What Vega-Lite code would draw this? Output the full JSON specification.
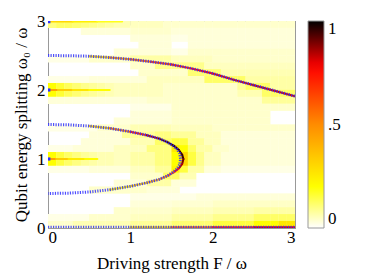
{
"$schema":"https://vega.github.io/schema/vega-lite/v6.json",
"width":247,"height":207,"autosize":"none",
"padding":{"left":48,"top":21,"right":79,"bottom":48},
"background":"white",
"config":{"font":"Liberation Serif","view":{"stroke":"#999","strokeWidth":1},
"axis":{"domainColor":"#999","tickColor":"#999","labelColor":"#000","titleColor":"#000","labelFontSize":17,"titleFontSize":17,"titleFontWeight":"normal","grid":false,"labelFont":"Liberation Serif","titleFont":"Liberation Serif"}},
"datasets":{
"grid":[
{"x":0.05,"y":2.95,"v":0.1},{"x":0.15,"y":2.95,"v":0.12},{"x":0.25,"y":2.95,"v":0.12},{"x":0.35,"y":2.95,"v":0.11},{"x":0.45,"y":2.95,"v":0.1},{"x":0.55,"y":2.95,"v":0.09},{"x":0.65,"y":2.95,"v":0.08},{"x":0.75,"y":2.95,"v":0.07},{"x":0.85,"y":2.95,"v":0.06},{"x":0.95,"y":2.95,"v":0.06},{"x":1.05,"y":2.95,"v":0.05},{"x":1.15,"y":2.95,"v":0.05},{"x":1.25,"y":2.95,"v":0.05},{"x":1.35,"y":2.95,"v":0.05},{"x":1.45,"y":2.95,"v":0.04},{"x":1.55,"y":2.95,"v":0.04},{"x":1.65,"y":2.95,"v":0.04},{"x":1.75,"y":2.95,"v":0.04},{"x":1.85,"y":2.95,"v":0.04},{"x":1.95,"y":2.95,"v":0.04},{"x":2.05,"y":2.95,"v":0.04},{"x":2.15,"y":2.95,"v":0.04},{"x":2.25,"y":2.95,"v":0.04},{"x":2.35,"y":2.95,"v":0.04},{"x":2.45,"y":2.95,"v":0.04},{"x":2.55,"y":2.95,"v":0.04},{"x":2.65,"y":2.95,"v":0.04},{"x":2.75,"y":2.95,"v":0.04},{"x":2.85,"y":2.95,"v":0.04},{"x":2.95,"y":2.95,"v":0.04},
{"x":0.45,"y":2.85,"v":0.03},{"x":0.55,"y":2.85,"v":0.03},{"x":0.65,"y":2.85,"v":0.03},{"x":0.75,"y":2.85,"v":0.03},{"x":0.85,"y":2.85,"v":0.03},{"x":0.95,"y":2.85,"v":0.03},{"x":1.05,"y":2.85,"v":0.04},{"x":1.15,"y":2.85,"v":0.04},{"x":1.25,"y":2.85,"v":0.04},{"x":1.35,"y":2.85,"v":0.04},{"x":1.45,"y":2.85,"v":0.04},{"x":1.55,"y":2.85,"v":0.03},{"x":1.65,"y":2.85,"v":0.03},{"x":1.75,"y":2.85,"v":0.03},{"x":1.85,"y":2.85,"v":0.03},{"x":1.95,"y":2.85,"v":0.03},{"x":2.05,"y":2.85,"v":0.03},{"x":2.15,"y":2.85,"v":0.03},{"x":2.25,"y":2.85,"v":0.03},{"x":2.35,"y":2.85,"v":0.03},{"x":2.45,"y":2.85,"v":0.03},{"x":2.55,"y":2.85,"v":0.03},{"x":2.65,"y":2.85,"v":0.03},{"x":2.75,"y":2.85,"v":0.03},{"x":2.85,"y":2.85,"v":0.03},{"x":2.95,"y":2.85,"v":0.03},
{"x":1.05,"y":2.75,"v":0.03},{"x":1.15,"y":2.75,"v":0.03},{"x":1.25,"y":2.75,"v":0.03},{"x":1.35,"y":2.75,"v":0.03},{"x":1.45,"y":2.75,"v":0.03},{"x":1.55,"y":2.75,"v":0.02},{"x":1.65,"y":2.75,"v":0.02},{"x":1.75,"y":2.75,"v":0.03},{"x":1.85,"y":2.75,"v":0.03},{"x":1.95,"y":2.75,"v":0.03},{"x":2.05,"y":2.75,"v":0.03},{"x":2.15,"y":2.75,"v":0.03},{"x":2.25,"y":2.75,"v":0.03},{"x":2.35,"y":2.75,"v":0.03},{"x":2.45,"y":2.75,"v":0.03},{"x":2.55,"y":2.75,"v":0.03},{"x":2.65,"y":2.75,"v":0.03},{"x":2.75,"y":2.75,"v":0.03},{"x":2.85,"y":2.75,"v":0.03},{"x":2.95,"y":2.75,"v":0.03},
{"x":1.15,"y":2.65,"v":0.03},{"x":1.25,"y":2.65,"v":0.03},{"x":1.35,"y":2.65,"v":0.03},{"x":1.45,"y":2.65,"v":0.03},{"x":1.75,"y":2.65,"v":0.03},{"x":1.85,"y":2.65,"v":0.03},{"x":1.95,"y":2.65,"v":0.03},{"x":2.05,"y":2.65,"v":0.03},{"x":2.15,"y":2.65,"v":0.03},{"x":2.25,"y":2.65,"v":0.03},{"x":2.35,"y":2.65,"v":0.03},{"x":2.45,"y":2.65,"v":0.03},{"x":2.55,"y":2.65,"v":0.03},{"x":2.65,"y":2.65,"v":0.03},{"x":2.75,"y":2.65,"v":0.03},{"x":2.85,"y":2.65,"v":0.03},{"x":2.95,"y":2.65,"v":0.03},
{"x":0.85,"y":2.55,"v":0.03},{"x":0.95,"y":2.55,"v":0.03},{"x":1.05,"y":2.55,"v":0.03},{"x":1.15,"y":2.55,"v":0.03},{"x":1.25,"y":2.55,"v":0.03},{"x":1.35,"y":2.55,"v":0.03},{"x":1.45,"y":2.55,"v":0.03},{"x":1.55,"y":2.55,"v":0.02},{"x":1.65,"y":2.55,"v":0.02},{"x":1.75,"y":2.55,"v":0.04},{"x":1.85,"y":2.55,"v":0.04},{"x":1.95,"y":2.55,"v":0.04},{"x":2.05,"y":2.55,"v":0.04},{"x":2.15,"y":2.55,"v":0.04},{"x":2.25,"y":2.55,"v":0.04},{"x":2.35,"y":2.55,"v":0.04},{"x":2.45,"y":2.55,"v":0.04},{"x":2.55,"y":2.55,"v":0.04},{"x":2.65,"y":2.55,"v":0.04},{"x":2.75,"y":2.55,"v":0.04},{"x":2.85,"y":2.55,"v":0.04},{"x":2.95,"y":2.55,"v":0.04},
{"x":0.05,"y":2.45,"v":0.02},{"x":0.15,"y":2.45,"v":0.02},{"x":0.25,"y":2.45,"v":0.02},{"x":0.35,"y":2.45,"v":0.02},{"x":0.45,"y":2.45,"v":0.02},{"x":0.55,"y":2.45,"v":0.04},{"x":0.65,"y":2.45,"v":0.04},{"x":0.75,"y":2.45,"v":0.04},{"x":0.85,"y":2.45,"v":0.04},{"x":0.95,"y":2.45,"v":0.04},{"x":1.05,"y":2.45,"v":0.07},{"x":1.15,"y":2.45,"v":0.07},{"x":1.25,"y":2.45,"v":0.07},{"x":1.35,"y":2.45,"v":0.07},{"x":1.45,"y":2.45,"v":0.07},{"x":1.55,"y":2.45,"v":0.05},{"x":1.65,"y":2.45,"v":0.05},{"x":1.75,"y":2.45,"v":0.05},{"x":1.85,"y":2.45,"v":0.05},{"x":1.95,"y":2.45,"v":0.05},{"x":2.05,"y":2.45,"v":0.04},{"x":2.15,"y":2.45,"v":0.04},{"x":2.25,"y":2.45,"v":0.04},{"x":2.35,"y":2.45,"v":0.04},{"x":2.45,"y":2.45,"v":0.04},{"x":2.55,"y":2.45,"v":0.04},{"x":2.65,"y":2.45,"v":0.04},{"x":2.75,"y":2.45,"v":0.04},{"x":2.85,"y":2.45,"v":0.04},{"x":2.95,"y":2.45,"v":0.04},
{"x":1.05,"y":2.35,"v":0.04},{"x":1.15,"y":2.35,"v":0.04},{"x":1.25,"y":2.35,"v":0.04},{"x":1.35,"y":2.35,"v":0.09},{"x":1.45,"y":2.35,"v":0.09},{"x":1.55,"y":2.35,"v":0.09},{"x":1.65,"y":2.35,"v":0.09},{"x":1.75,"y":2.35,"v":0.09},{"x":1.85,"y":2.35,"v":0.09},{"x":1.95,"y":2.35,"v":0.05},{"x":2.05,"y":2.35,"v":0.05},{"x":2.15,"y":2.35,"v":0.05},{"x":2.25,"y":2.35,"v":0.05},{"x":2.35,"y":2.35,"v":0.05},{"x":2.45,"y":2.35,"v":0.05},{"x":2.55,"y":2.35,"v":0.05},{"x":2.65,"y":2.35,"v":0.05},{"x":2.75,"y":2.35,"v":0.05},{"x":2.85,"y":2.35,"v":0.05},{"x":2.95,"y":2.35,"v":0.05},
{"x":1.15,"y":2.25,"v":0.04},{"x":1.25,"y":2.25,"v":0.04},{"x":1.35,"y":2.25,"v":0.04},{"x":1.45,"y":2.25,"v":0.04},{"x":1.55,"y":2.25,"v":0.04},{"x":1.65,"y":2.25,"v":0.04},{"x":1.75,"y":2.25,"v":0.11},{"x":1.85,"y":2.25,"v":0.11},{"x":1.95,"y":2.25,"v":0.11},{"x":2.05,"y":2.25,"v":0.11},{"x":2.15,"y":2.25,"v":0.06},{"x":2.25,"y":2.25,"v":0.06},{"x":2.35,"y":2.25,"v":0.06},{"x":2.45,"y":2.25,"v":0.06},{"x":2.55,"y":2.25,"v":0.06},{"x":2.65,"y":2.25,"v":0.06},{"x":2.75,"y":2.25,"v":0.06},{"x":2.85,"y":2.25,"v":0.06},{"x":2.95,"y":2.25,"v":0.06},
{"x":0.05,"y":2.15,"v":0.02},{"x":0.15,"y":2.15,"v":0.02},{"x":0.25,"y":2.15,"v":0.02},{"x":0.35,"y":2.15,"v":0.02},{"x":0.45,"y":2.15,"v":0.02},{"x":0.55,"y":2.15,"v":0.03},{"x":0.65,"y":2.15,"v":0.03},{"x":0.75,"y":2.15,"v":0.03},{"x":0.85,"y":2.15,"v":0.03},{"x":0.95,"y":2.15,"v":0.03},{"x":1.05,"y":2.15,"v":0.03},{"x":1.15,"y":2.15,"v":0.03},{"x":1.25,"y":2.15,"v":0.05},{"x":1.35,"y":2.15,"v":0.05},{"x":1.45,"y":2.15,"v":0.05},{"x":1.55,"y":2.15,"v":0.05},{"x":1.65,"y":2.15,"v":0.05},{"x":1.75,"y":2.15,"v":0.05},{"x":1.85,"y":2.15,"v":0.05},{"x":1.95,"y":2.15,"v":0.12},{"x":2.05,"y":2.15,"v":0.12},{"x":2.15,"y":2.15,"v":0.12},{"x":2.25,"y":2.15,"v":0.12},{"x":2.35,"y":2.15,"v":0.12},{"x":2.45,"y":2.15,"v":0.07},{"x":2.55,"y":2.15,"v":0.07},{"x":2.65,"y":2.15,"v":0.07},{"x":2.75,"y":2.15,"v":0.07},{"x":2.85,"y":2.15,"v":0.07},{"x":2.95,"y":2.15,"v":0.07},
{"x":0.05,"y":2.05,"v":0.2},{"x":0.15,"y":2.05,"v":0.16},{"x":0.25,"y":2.05,"v":0.13},{"x":0.35,"y":2.05,"v":0.11},{"x":0.45,"y":2.05,"v":0.09},{"x":0.55,"y":2.05,"v":0.08},{"x":0.65,"y":2.05,"v":0.07},{"x":0.75,"y":2.05,"v":0.06},{"x":0.85,"y":2.05,"v":0.05},{"x":0.95,"y":2.05,"v":0.05},{"x":1.05,"y":2.05,"v":0.05},{"x":1.15,"y":2.05,"v":0.05},{"x":1.25,"y":2.05,"v":0.05},{"x":1.35,"y":2.05,"v":0.05},{"x":1.45,"y":2.05,"v":0.04},{"x":1.55,"y":2.05,"v":0.04},{"x":1.65,"y":2.05,"v":0.04},{"x":1.75,"y":2.05,"v":0.04},{"x":1.85,"y":2.05,"v":0.04},{"x":1.95,"y":2.05,"v":0.04},{"x":2.05,"y":2.05,"v":0.04},{"x":2.15,"y":2.05,"v":0.04},{"x":2.25,"y":2.05,"v":0.04},{"x":2.35,"y":2.05,"v":0.08},{"x":2.45,"y":2.05,"v":0.12},{"x":2.55,"y":2.05,"v":0.12},{"x":2.65,"y":2.05,"v":0.12},{"x":2.75,"y":2.05,"v":0.07},{"x":2.85,"y":2.05,"v":0.07},{"x":2.95,"y":2.05,"v":0.07},
{"x":0.05,"y":1.95,"v":0.2},{"x":0.15,"y":1.95,"v":0.16},{"x":0.25,"y":1.95,"v":0.13},{"x":0.35,"y":1.95,"v":0.11},{"x":0.45,"y":1.95,"v":0.09},{"x":0.55,"y":1.95,"v":0.08},{"x":0.65,"y":1.95,"v":0.07},{"x":0.75,"y":1.95,"v":0.06},{"x":0.85,"y":1.95,"v":0.05},{"x":0.95,"y":1.95,"v":0.05},{"x":1.05,"y":1.95,"v":0.05},{"x":1.15,"y":1.95,"v":0.05},{"x":1.25,"y":1.95,"v":0.05},{"x":1.35,"y":1.95,"v":0.05},{"x":1.45,"y":1.95,"v":0.04},{"x":1.55,"y":1.95,"v":0.04},{"x":1.65,"y":1.95,"v":0.04},{"x":1.75,"y":1.95,"v":0.04},{"x":1.85,"y":1.95,"v":0.04},{"x":1.95,"y":1.95,"v":0.04},{"x":2.05,"y":1.95,"v":0.04},{"x":2.15,"y":1.95,"v":0.04},{"x":2.25,"y":1.95,"v":0.04},{"x":2.35,"y":1.95,"v":0.06},{"x":2.45,"y":1.95,"v":0.06},{"x":2.55,"y":1.95,"v":0.06},{"x":2.65,"y":1.95,"v":0.12},{"x":2.75,"y":1.95,"v":0.12},{"x":2.85,"y":1.95,"v":0.12},{"x":2.95,"y":1.95,"v":0.12},
{"x":0.05,"y":1.85,"v":0.03},{"x":0.15,"y":1.85,"v":0.03},{"x":0.25,"y":1.85,"v":0.03},{"x":0.35,"y":1.85,"v":0.03},{"x":0.45,"y":1.85,"v":0.03},{"x":0.55,"y":1.85,"v":0.03},{"x":0.65,"y":1.85,"v":0.03},{"x":0.75,"y":1.85,"v":0.03},{"x":0.85,"y":1.85,"v":0.03},{"x":0.95,"y":1.85,"v":0.03},{"x":1.05,"y":1.85,"v":0.03},{"x":1.15,"y":1.85,"v":0.03},{"x":1.25,"y":1.85,"v":0.04},{"x":1.35,"y":1.85,"v":0.04},{"x":1.45,"y":1.85,"v":0.04},{"x":1.55,"y":1.85,"v":0.04},{"x":1.65,"y":1.85,"v":0.04},{"x":1.75,"y":1.85,"v":0.04},{"x":1.85,"y":1.85,"v":0.04},{"x":1.95,"y":1.85,"v":0.04},{"x":2.05,"y":1.85,"v":0.04},{"x":2.15,"y":1.85,"v":0.04},{"x":2.25,"y":1.85,"v":0.04},{"x":2.35,"y":1.85,"v":0.04},{"x":2.45,"y":1.85,"v":0.04},{"x":2.55,"y":1.85,"v":0.04},{"x":2.65,"y":1.85,"v":0.08},{"x":2.75,"y":1.85,"v":0.08},{"x":2.85,"y":1.85,"v":0.08},{"x":2.95,"y":1.85,"v":0.08},
{"x":1.05,"y":1.75,"v":0.02},{"x":1.15,"y":1.75,"v":0.02},{"x":1.25,"y":1.75,"v":0.02},{"x":1.35,"y":1.75,"v":0.02},{"x":1.45,"y":1.75,"v":0.02},{"x":1.55,"y":1.75,"v":0.04},{"x":1.65,"y":1.75,"v":0.04},{"x":1.75,"y":1.75,"v":0.04},{"x":1.85,"y":1.75,"v":0.04},{"x":1.95,"y":1.75,"v":0.04},{"x":2.05,"y":1.75,"v":0.04},{"x":2.15,"y":1.75,"v":0.04},{"x":2.25,"y":1.75,"v":0.04},{"x":2.35,"y":1.75,"v":0.04},{"x":2.45,"y":1.75,"v":0.04},{"x":2.55,"y":1.75,"v":0.04},{"x":2.65,"y":1.75,"v":0.04},{"x":2.75,"y":1.75,"v":0.04},{"x":2.85,"y":1.75,"v":0.04},{"x":2.95,"y":1.75,"v":0.04},
{"x":1.05,"y":1.65,"v":0.03},{"x":1.15,"y":1.65,"v":0.03},{"x":1.25,"y":1.65,"v":0.03},{"x":1.35,"y":1.65,"v":0.03},{"x":1.45,"y":1.65,"v":0.03},{"x":1.55,"y":1.65,"v":0.04},{"x":1.65,"y":1.65,"v":0.04},{"x":1.75,"y":1.65,"v":0.04},{"x":1.85,"y":1.65,"v":0.04},{"x":1.95,"y":1.65,"v":0.04},{"x":2.05,"y":1.65,"v":0.04},{"x":2.15,"y":1.65,"v":0.04},{"x":2.25,"y":1.65,"v":0.04},{"x":2.35,"y":1.65,"v":0.04},{"x":2.45,"y":1.65,"v":0.04},{"x":2.55,"y":1.65,"v":0.04},{"x":2.65,"y":1.65,"v":0.04},
{"x":0.85,"y":1.55,"v":0.03},{"x":0.95,"y":1.55,"v":0.03},{"x":1.05,"y":1.55,"v":0.03},{"x":1.15,"y":1.55,"v":0.03},{"x":1.25,"y":1.55,"v":0.03},{"x":1.35,"y":1.55,"v":0.03},{"x":1.45,"y":1.55,"v":0.03},{"x":1.55,"y":1.55,"v":0.04},{"x":1.65,"y":1.55,"v":0.04},{"x":1.75,"y":1.55,"v":0.04},{"x":1.85,"y":1.55,"v":0.04},{"x":1.95,"y":1.55,"v":0.04},{"x":2.05,"y":1.55,"v":0.04},{"x":2.15,"y":1.55,"v":0.04},{"x":2.25,"y":1.55,"v":0.04},{"x":2.35,"y":1.55,"v":0.04},{"x":2.45,"y":1.55,"v":0.04},{"x":2.55,"y":1.55,"v":0.04},{"x":2.65,"y":1.55,"v":0.04},
{"x":0.05,"y":1.45,"v":0.02},{"x":0.15,"y":1.45,"v":0.02},{"x":0.25,"y":1.45,"v":0.02},{"x":0.35,"y":1.45,"v":0.02},{"x":0.45,"y":1.45,"v":0.02},{"x":0.55,"y":1.45,"v":0.02},{"x":0.65,"y":1.45,"v":0.04},{"x":0.75,"y":1.45,"v":0.04},{"x":0.85,"y":1.45,"v":0.04},{"x":0.95,"y":1.45,"v":0.04},{"x":1.05,"y":1.45,"v":0.06},{"x":1.15,"y":1.45,"v":0.06},{"x":1.25,"y":1.45,"v":0.06},{"x":1.35,"y":1.45,"v":0.06},{"x":1.45,"y":1.45,"v":0.06},{"x":1.55,"y":1.45,"v":0.05},{"x":1.65,"y":1.45,"v":0.05},{"x":1.75,"y":1.45,"v":0.05},{"x":1.85,"y":1.45,"v":0.05},{"x":1.95,"y":1.45,"v":0.05},{"x":2.05,"y":1.45,"v":0.04},{"x":2.15,"y":1.45,"v":0.04},{"x":2.25,"y":1.45,"v":0.04},{"x":2.35,"y":1.45,"v":0.04},{"x":2.45,"y":1.45,"v":0.04},{"x":2.55,"y":1.45,"v":0.04},{"x":2.65,"y":1.45,"v":0.04},{"x":2.75,"y":1.45,"v":0.04},{"x":2.85,"y":1.45,"v":0.04},{"x":2.95,"y":1.45,"v":0.04},
{"x":0.55,"y":1.35,"v":0.03},{"x":0.65,"y":1.35,"v":0.03},{"x":0.75,"y":1.35,"v":0.03},{"x":0.85,"y":1.35,"v":0.03},{"x":0.95,"y":1.35,"v":0.08},{"x":1.05,"y":1.35,"v":0.08},{"x":1.15,"y":1.35,"v":0.08},{"x":1.25,"y":1.35,"v":0.08},{"x":1.35,"y":1.35,"v":0.1},{"x":1.45,"y":1.35,"v":0.1},{"x":1.55,"y":1.35,"v":0.08},{"x":1.65,"y":1.35,"v":0.08},{"x":1.75,"y":1.35,"v":0.08},{"x":1.85,"y":1.35,"v":0.05},{"x":1.95,"y":1.35,"v":0.05},{"x":2.05,"y":1.35,"v":0.05},{"x":2.15,"y":1.35,"v":0.03},{"x":2.25,"y":1.35,"v":0.03},{"x":2.35,"y":1.35,"v":0.03},{"x":2.45,"y":1.35,"v":0.03},{"x":2.55,"y":1.35,"v":0.03},{"x":2.65,"y":1.35,"v":0.03},{"x":2.75,"y":1.35,"v":0.03},{"x":2.85,"y":1.35,"v":0.03},{"x":2.95,"y":1.35,"v":0.03},
{"x":0.45,"y":1.25,"v":0.03},{"x":0.55,"y":1.25,"v":0.03},{"x":0.65,"y":1.25,"v":0.03},{"x":0.75,"y":1.25,"v":0.03},{"x":0.85,"y":1.25,"v":0.03},{"x":0.95,"y":1.25,"v":0.03},{"x":1.05,"y":1.25,"v":0.06},{"x":1.15,"y":1.25,"v":0.06},{"x":1.25,"y":1.25,"v":0.06},{"x":1.35,"y":1.25,"v":0.12},{"x":1.45,"y":1.25,"v":0.12},{"x":1.55,"y":1.25,"v":0.15},{"x":1.65,"y":1.25,"v":0.15},{"x":1.75,"y":1.25,"v":0.08},{"x":1.85,"y":1.25,"v":0.08},{"x":1.95,"y":1.25,"v":0.05},{"x":2.05,"y":1.25,"v":0.05},{"x":2.15,"y":1.25,"v":0.03},{"x":2.25,"y":1.25,"v":0.03},{"x":2.35,"y":1.25,"v":0.03},{"x":2.45,"y":1.25,"v":0.03},{"x":2.55,"y":1.25,"v":0.03},{"x":2.65,"y":1.25,"v":0.03},{"x":2.75,"y":1.25,"v":0.03},{"x":2.85,"y":1.25,"v":0.03},{"x":2.95,"y":1.25,"v":0.03},
{"x":0.05,"y":1.15,"v":0.02},{"x":0.15,"y":1.15,"v":0.02},{"x":0.25,"y":1.15,"v":0.02},{"x":0.35,"y":1.15,"v":0.03},{"x":0.45,"y":1.15,"v":0.03},{"x":0.55,"y":1.15,"v":0.03},{"x":0.65,"y":1.15,"v":0.03},{"x":0.75,"y":1.15,"v":0.03},{"x":0.85,"y":1.15,"v":0.05},{"x":0.95,"y":1.15,"v":0.05},{"x":1.05,"y":1.15,"v":0.05},{"x":1.15,"y":1.15,"v":0.05},{"x":1.25,"y":1.15,"v":0.1},{"x":1.35,"y":1.15,"v":0.1},{"x":1.45,"y":1.15,"v":0.1},{"x":1.55,"y":1.15,"v":0.25},{"x":1.65,"y":1.15,"v":0.2},{"x":1.75,"y":1.15,"v":0.12},{"x":1.85,"y":1.15,"v":0.07},{"x":1.95,"y":1.15,"v":0.07},{"x":2.05,"y":1.15,"v":0.04},{"x":2.15,"y":1.15,"v":0.04},{"x":2.25,"y":1.15,"v":0.03},{"x":2.35,"y":1.15,"v":0.03},{"x":2.45,"y":1.15,"v":0.03},{"x":2.55,"y":1.15,"v":0.03},{"x":2.65,"y":1.15,"v":0.03},{"x":2.75,"y":1.15,"v":0.03},{"x":2.85,"y":1.15,"v":0.03},{"x":2.95,"y":1.15,"v":0.03},
{"x":0.05,"y":1.05,"v":0.2},{"x":0.15,"y":1.05,"v":0.15},{"x":0.25,"y":1.05,"v":0.12},{"x":0.35,"y":1.05,"v":0.1},{"x":0.45,"y":1.05,"v":0.08},{"x":0.55,"y":1.05,"v":0.07},{"x":0.65,"y":1.05,"v":0.06},{"x":0.75,"y":1.05,"v":0.06},{"x":0.85,"y":1.05,"v":0.05},{"x":0.95,"y":1.05,"v":0.05},{"x":1.05,"y":1.05,"v":0.07},{"x":1.15,"y":1.05,"v":0.07},{"x":1.25,"y":1.05,"v":0.07},{"x":1.35,"y":1.05,"v":0.1},{"x":1.45,"y":1.05,"v":0.1},{"x":1.55,"y":1.05,"v":0.2},{"x":1.65,"y":1.05,"v":0.3},{"x":1.75,"y":1.05,"v":0.15},{"x":1.85,"y":1.05,"v":0.09},{"x":1.95,"y":1.05,"v":0.05},{"x":2.05,"y":1.05,"v":0.05},{"x":2.15,"y":1.05,"v":0.03},{"x":2.25,"y":1.05,"v":0.03},{"x":2.35,"y":1.05,"v":0.03},{"x":2.45,"y":1.05,"v":0.03},{"x":2.55,"y":1.05,"v":0.03},{"x":2.65,"y":1.05,"v":0.03},{"x":2.75,"y":1.05,"v":0.03},{"x":2.85,"y":1.05,"v":0.03},{"x":2.95,"y":1.05,"v":0.03},
{"x":0.05,"y":0.95,"v":0.2},{"x":0.15,"y":0.95,"v":0.15},{"x":0.25,"y":0.95,"v":0.12},{"x":0.35,"y":0.95,"v":0.1},{"x":0.45,"y":0.95,"v":0.08},{"x":0.55,"y":0.95,"v":0.07},{"x":0.65,"y":0.95,"v":0.06},{"x":0.75,"y":0.95,"v":0.06},{"x":0.85,"y":0.95,"v":0.05},{"x":0.95,"y":0.95,"v":0.05},{"x":1.05,"y":0.95,"v":0.07},{"x":1.15,"y":0.95,"v":0.07},{"x":1.25,"y":0.95,"v":0.07},{"x":1.35,"y":0.95,"v":0.1},{"x":1.45,"y":0.95,"v":0.1},{"x":1.55,"y":0.95,"v":0.2},{"x":1.65,"y":0.95,"v":0.3},{"x":1.75,"y":0.95,"v":0.15},{"x":1.85,"y":0.95,"v":0.09},{"x":1.95,"y":0.95,"v":0.05},{"x":2.05,"y":0.95,"v":0.05},{"x":2.15,"y":0.95,"v":0.03},{"x":2.25,"y":0.95,"v":0.03},{"x":2.35,"y":0.95,"v":0.03},{"x":2.45,"y":0.95,"v":0.03},{"x":2.55,"y":0.95,"v":0.03},{"x":2.65,"y":0.95,"v":0.03},{"x":2.75,"y":0.95,"v":0.03},{"x":2.85,"y":0.95,"v":0.03},{"x":2.95,"y":0.95,"v":0.03},
{"x":0.05,"y":0.85,"v":0.02},{"x":0.15,"y":0.85,"v":0.02},{"x":0.25,"y":0.85,"v":0.02},{"x":0.35,"y":0.85,"v":0.02},{"x":0.45,"y":0.85,"v":0.02},{"x":0.55,"y":0.85,"v":0.03},{"x":0.65,"y":0.85,"v":0.03},{"x":0.75,"y":0.85,"v":0.03},{"x":0.85,"y":0.85,"v":0.03},{"x":0.95,"y":0.85,"v":0.03},{"x":1.05,"y":0.85,"v":0.05},{"x":1.15,"y":0.85,"v":0.05},{"x":1.25,"y":0.85,"v":0.05},{"x":1.35,"y":0.85,"v":0.08},{"x":1.45,"y":0.85,"v":0.08},{"x":1.55,"y":0.85,"v":0.22},{"x":1.65,"y":0.85,"v":0.15},{"x":1.75,"y":0.85,"v":0.07},{"x":1.85,"y":0.85,"v":0.07},{"x":1.95,"y":0.85,"v":0.03},{"x":2.05,"y":0.85,"v":0.03},{"x":2.15,"y":0.85,"v":0.02},{"x":2.25,"y":0.85,"v":0.02},{"x":2.35,"y":0.85,"v":0.02},{"x":2.45,"y":0.85,"v":0.02},{"x":2.55,"y":0.85,"v":0.02},{"x":2.65,"y":0.85,"v":0.02},{"x":2.75,"y":0.85,"v":0.02},{"x":2.85,"y":0.85,"v":0.02},{"x":2.95,"y":0.85,"v":0.02},
{"x":1.05,"y":0.75,"v":0.04},{"x":1.15,"y":0.75,"v":0.04},{"x":1.25,"y":0.75,"v":0.04},{"x":1.35,"y":0.75,"v":0.04},{"x":1.45,"y":0.75,"v":0.12},{"x":1.55,"y":0.75,"v":0.12},{"x":1.65,"y":0.75,"v":0.06},{"x":1.75,"y":0.75,"v":0.06},
{"x":0.85,"y":0.65,"v":0.03},{"x":0.95,"y":0.65,"v":0.03},{"x":1.05,"y":0.65,"v":0.03},{"x":1.15,"y":0.65,"v":0.03},{"x":1.25,"y":0.65,"v":0.07},{"x":1.35,"y":0.65,"v":0.07},{"x":1.45,"y":0.65,"v":0.07},{"x":1.55,"y":0.65,"v":0.03},{"x":1.65,"y":0.65,"v":0.03},{"x":1.75,"y":0.65,"v":0.03},
{"x":0.55,"y":0.55,"v":0.04},{"x":0.65,"y":0.55,"v":0.04},{"x":0.75,"y":0.55,"v":0.04},{"x":0.85,"y":0.55,"v":0.04},{"x":0.95,"y":0.55,"v":0.04},{"x":1.05,"y":0.55,"v":0.04},{"x":1.15,"y":0.55,"v":0.04},{"x":1.25,"y":0.55,"v":0.03},{"x":1.35,"y":0.55,"v":0.03},{"x":1.45,"y":0.55,"v":0.03},{"x":1.55,"y":0.55,"v":0.03},
{"x":1.05,"y":0.45,"v":0.02},{"x":1.15,"y":0.45,"v":0.02},{"x":1.25,"y":0.45,"v":0.02},{"x":1.35,"y":0.45,"v":0.02},{"x":1.45,"y":0.45,"v":0.02},{"x":1.55,"y":0.45,"v":0.02},{"x":1.65,"y":0.45,"v":0.02},{"x":1.75,"y":0.45,"v":0.02},{"x":1.85,"y":0.45,"v":0.03},{"x":1.95,"y":0.45,"v":0.03},{"x":2.05,"y":0.45,"v":0.03},{"x":2.15,"y":0.45,"v":0.03},{"x":2.25,"y":0.45,"v":0.03},{"x":2.35,"y":0.45,"v":0.03},{"x":2.45,"y":0.45,"v":0.03},{"x":2.55,"y":0.45,"v":0.03},{"x":2.65,"y":0.45,"v":0.03},{"x":2.75,"y":0.45,"v":0.03},{"x":2.85,"y":0.45,"v":0.03},{"x":2.95,"y":0.45,"v":0.03},
{"x":1.05,"y":0.35,"v":0.03},{"x":1.15,"y":0.35,"v":0.03},{"x":1.25,"y":0.35,"v":0.03},{"x":1.35,"y":0.35,"v":0.03},{"x":1.45,"y":0.35,"v":0.03},{"x":1.55,"y":0.35,"v":0.035},{"x":1.65,"y":0.35,"v":0.035},{"x":1.75,"y":0.35,"v":0.035},{"x":1.85,"y":0.35,"v":0.035},{"x":1.95,"y":0.35,"v":0.035},{"x":2.05,"y":0.35,"v":0.045},{"x":2.15,"y":0.35,"v":0.045},{"x":2.25,"y":0.35,"v":0.045},{"x":2.35,"y":0.35,"v":0.045},{"x":2.45,"y":0.35,"v":0.045},{"x":2.55,"y":0.35,"v":0.045},{"x":2.65,"y":0.35,"v":0.045},{"x":2.75,"y":0.35,"v":0.045},{"x":2.85,"y":0.35,"v":0.045},{"x":2.95,"y":0.35,"v":0.045},
{"x":0.85,"y":0.25,"v":0.04},{"x":0.95,"y":0.25,"v":0.04},{"x":1.05,"y":0.25,"v":0.04},{"x":1.15,"y":0.25,"v":0.04},{"x":1.25,"y":0.25,"v":0.04},{"x":1.35,"y":0.25,"v":0.04},{"x":1.45,"y":0.25,"v":0.04},{"x":1.55,"y":0.25,"v":0.05},{"x":1.65,"y":0.25,"v":0.05},{"x":1.75,"y":0.25,"v":0.05},{"x":1.85,"y":0.25,"v":0.05},{"x":1.95,"y":0.25,"v":0.05},{"x":2.05,"y":0.25,"v":0.06},{"x":2.15,"y":0.25,"v":0.06},{"x":2.25,"y":0.25,"v":0.06},{"x":2.35,"y":0.25,"v":0.06},{"x":2.45,"y":0.25,"v":0.06},{"x":2.55,"y":0.25,"v":0.07},{"x":2.65,"y":0.25,"v":0.07},{"x":2.75,"y":0.25,"v":0.07},{"x":2.85,"y":0.25,"v":0.07},{"x":2.95,"y":0.25,"v":0.07},
{"x":0.05,"y":0.15,"v":0.02},{"x":0.15,"y":0.15,"v":0.02},{"x":0.25,"y":0.15,"v":0.02},{"x":0.35,"y":0.15,"v":0.02},{"x":0.45,"y":0.15,"v":0.02},{"x":0.55,"y":0.15,"v":0.04},{"x":0.65,"y":0.15,"v":0.04},{"x":0.75,"y":0.15,"v":0.04},{"x":0.85,"y":0.15,"v":0.04},{"x":0.95,"y":0.15,"v":0.04},{"x":1.05,"y":0.15,"v":0.05},{"x":1.15,"y":0.15,"v":0.05},{"x":1.25,"y":0.15,"v":0.05},{"x":1.35,"y":0.15,"v":0.05},{"x":1.45,"y":0.15,"v":0.05},{"x":1.55,"y":0.15,"v":0.07},{"x":1.65,"y":0.15,"v":0.07},{"x":1.75,"y":0.15,"v":0.07},{"x":1.85,"y":0.15,"v":0.07},{"x":1.95,"y":0.15,"v":0.07},{"x":2.05,"y":0.15,"v":0.09},{"x":2.15,"y":0.15,"v":0.09},{"x":2.25,"y":0.15,"v":0.09},{"x":2.35,"y":0.15,"v":0.09},{"x":2.45,"y":0.15,"v":0.09},{"x":2.55,"y":0.15,"v":0.12},{"x":2.65,"y":0.15,"v":0.12},{"x":2.75,"y":0.15,"v":0.12},{"x":2.85,"y":0.15,"v":0.12},{"x":2.95,"y":0.15,"v":0.12},
{"x":0.05,"y":0.05,"v":0.04},{"x":0.15,"y":0.05,"v":0.04},{"x":0.25,"y":0.05,"v":0.04},{"x":0.35,"y":0.05,"v":0.06},{"x":0.45,"y":0.05,"v":0.06},{"x":0.55,"y":0.05,"v":0.06},{"x":0.65,"y":0.05,"v":0.06},{"x":0.75,"y":0.05,"v":0.06},{"x":0.85,"y":0.05,"v":0.06},{"x":0.95,"y":0.05,"v":0.06},{"x":1.05,"y":0.05,"v":0.08},{"x":1.15,"y":0.05,"v":0.08},{"x":1.25,"y":0.05,"v":0.08},{"x":1.35,"y":0.05,"v":0.08},{"x":1.45,"y":0.05,"v":0.08},{"x":1.55,"y":0.05,"v":0.11},{"x":1.65,"y":0.05,"v":0.11},{"x":1.75,"y":0.05,"v":0.11},{"x":1.85,"y":0.05,"v":0.11},{"x":1.95,"y":0.05,"v":0.11},{"x":2.05,"y":0.05,"v":0.15},{"x":2.15,"y":0.05,"v":0.15},{"x":2.25,"y":0.05,"v":0.15},{"x":2.35,"y":0.05,"v":0.15},{"x":2.45,"y":0.05,"v":0.15},{"x":2.55,"y":0.05,"v":0.2},{"x":2.65,"y":0.05,"v":0.2},{"x":2.75,"y":0.05,"v":0.2},{"x":2.85,"y":0.05,"v":0.26},{"x":2.95,"y":0.05,"v":0.26}
],
"res":[
{"x":0.5,"y":2.49,"x2":0.75,"y2":2.47,"p":0.3},{"x":0.75,"y":2.47,"x2":1.0,"y2":2.445,"p":0.45},{"x":1.0,"y":2.445,"x2":1.25,"y2":2.41,"p":0.55},{"x":1.25,"y":2.41,"x2":1.5,"y2":2.37,"p":0.65},{"x":1.5,"y":2.37,"x2":1.75,"y2":2.31,"p":0.72},{"x":1.75,"y":2.31,"x2":2.0,"y2":2.24,"p":0.78},{"x":2.0,"y":2.24,"x2":2.25,"y2":2.15,"p":0.8},{"x":2.25,"y":2.15,"x2":2.5,"y2":2.07,"p":0.82},{"x":2.5,"y":2.07,"x2":2.75,"y2":1.99,"p":0.82},{"x":2.75,"y":1.99,"x2":3.0,"y2":1.91,"p":0.82},
{"x":0.5,"y":1.478,"x2":0.75,"y2":1.445,"p":0.3},{"x":0.75,"y":1.445,"x2":1.0,"y2":1.395,"p":0.5},{"x":1.0,"y":1.395,"x2":1.2,"y2":1.345,"p":0.7},{"x":1.2,"y":1.345,"x2":1.35,"y2":1.295,"p":0.85},{"x":1.35,"y":1.295,"x2":1.45,"y2":1.245,"p":0.92},{"x":1.45,"y":1.245,"x2":1.53,"y2":1.19,"p":0.95},{"x":1.53,"y":1.19,"x2":1.59,"y2":1.13,"p":0.95},{"x":1.59,"y":1.13,"x2":1.63,"y2":1.06,"p":0.95},{"x":1.63,"y":1.06,"x2":1.645,"y2":1.0,"p":0.95},
{"x":1.645,"y":1.0,"x2":1.63,"y2":0.93,"p":0.9},{"x":1.63,"y":0.93,"x2":1.59,"y2":0.865,"p":0.85},{"x":1.59,"y":0.865,"x2":1.53,"y2":0.81,"p":0.75},{"x":1.53,"y":0.81,"x2":1.45,"y2":0.755,"p":0.6},{"x":1.45,"y":0.755,"x2":1.35,"y2":0.705,"p":0.5},{"x":1.35,"y":0.705,"x2":1.2,"y2":0.655,"p":0.4},{"x":1.2,"y":0.655,"x2":1.0,"y2":0.605,"p":0.32},{"x":1.0,"y":0.605,"x2":0.75,"y2":0.555,"p":0.25},
{"x":1.0,"y":0.012,"x2":1.5,"y2":0.012,"p":0.3},{"x":1.5,"y":0.012,"x2":2.0,"y2":0.012,"p":0.55},{"x":2.0,"y":0.012,"x2":2.5,"y2":0.012,"p":0.7},{"x":2.5,"y":0.012,"x2":3.0,"y2":0.012,"p":0.8},
{"x":0.0,"y":2.0,"x2":0.12,"y2":2.0,"p":0.45},{"x":0.12,"y":2.0,"x2":0.3,"y2":2.0,"p":0.33},{"x":0.3,"y":2.0,"x2":0.5,"y2":2.0,"p":0.26},{"x":0.5,"y":2.0,"x2":0.75,"y2":2.0,"p":0.2},
{"x":0.0,"y":1.0,"x2":0.1,"y2":1.0,"p":0.45},{"x":0.1,"y":1.0,"x2":0.25,"y2":1.0,"p":0.33},{"x":0.25,"y":1.0,"x2":0.45,"y2":1.0,"p":0.25},{"x":0.45,"y":1.0,"x2":0.6,"y2":1.0,"p":0.2},
{"x":0.0,"y":2.993,"x2":0.3,"y2":2.993,"p":0.3},{"x":0.3,"y":2.993,"x2":0.6,"y2":2.993,"p":0.24},{"x":0.6,"y":2.993,"x2":0.9,"y2":2.993,"p":0.18}
],
"blue":[
{"c":"A","o":1,"x":0,"y":2.5},{"c":"A","o":2,"x":0.25,"y":2.497},{"c":"A","o":3,"x":0.5,"y":2.49},{"c":"A","o":4,"x":0.75,"y":2.47},{"c":"A","o":5,"x":1.0,"y":2.445},{"c":"A","o":6,"x":1.25,"y":2.41},{"c":"A","o":7,"x":1.5,"y":2.37},{"c":"A","o":8,"x":1.75,"y":2.31},{"c":"A","o":9,"x":2.0,"y":2.24},{"c":"A","o":10,"x":2.25,"y":2.15},{"c":"A","o":11,"x":2.5,"y":2.07},{"c":"A","o":12,"x":2.75,"y":1.99},{"c":"A","o":13,"x":3.0,"y":1.91},
{"c":"B","o":1,"x":0,"y":1.5},{"c":"B","o":2,"x":0.25,"y":1.495},{"c":"B","o":3,"x":0.5,"y":1.478},{"c":"B","o":4,"x":0.75,"y":1.445},{"c":"B","o":5,"x":1.0,"y":1.395},{"c":"B","o":6,"x":1.2,"y":1.345},{"c":"B","o":7,"x":1.35,"y":1.295},{"c":"B","o":8,"x":1.45,"y":1.245},{"c":"B","o":9,"x":1.52,"y":1.19},{"c":"B","o":10,"x":1.57,"y":1.14},{"c":"B","o":11,"x":1.6,"y":1.08},{"c":"B","o":12,"x":1.61,"y":1.0},{"c":"B","o":13,"x":1.6,"y":0.92},{"c":"B","o":14,"x":1.57,"y":0.86},{"c":"B","o":15,"x":1.52,"y":0.81},{"c":"B","o":16,"x":1.45,"y":0.755},{"c":"B","o":17,"x":1.35,"y":0.705},{"c":"B","o":18,"x":1.2,"y":0.655},{"c":"B","o":19,"x":1.0,"y":0.605},{"c":"B","o":20,"x":0.75,"y":0.555},{"c":"B","o":21,"x":0.5,"y":0.522},{"c":"B","o":22,"x":0.25,"y":0.505},{"c":"B","o":23,"x":0,"y":0.5},
{"c":"C","o":1,"x":0,"y":0.012},{"c":"C","o":2,"x":3.0,"y":0.012}
],
"dots":[{"x":0.01,"y":1.0},{"x":0.01,"y":2.0},{"x":0.01,"y":2.99}]
},
"layer":[
{"data":{"name":"grid"},"mark":{"type":"rect","width":8.5,"height":7.2,"clip":true},
"encoding":{
"x":{"field":"x","type":"quantitative","scale":{"domain":[0,3],"nice":false,"zero":false},"axis":{"orient":"bottom","values":[0,1,2,3],"format":"d","tickSize":-4,"labelPadding":5,"title":"Driving strength F / ω","titlePadding":10}},
"y":{"field":"y","type":"quantitative","scale":{"domain":[0,3],"nice":false,"zero":false},"axis":{"orient":"left","values":[0,1,2,3],"format":"d","tickSize":-4,"labelPadding":7,"title":"Qubit energy splitting ω₀ / ω","titlePadding":6}},
"color":{"field":"v","type":"quantitative","scale":{"domain":[0,0.2,0.5,0.78,1],"range":["#ffffff","#ffff00","#ff8c00","#ff0000","#000000"],"interpolate":"rgb"},
"legend":{"type":"gradient","title":null,"orient":"none","legendX":260,"legendY":0,"direction":"vertical","gradientLength":207,"gradientThickness":16,"values":[0,0.5,1],"labelExpr":"datum.value==0.5?'.5':format(datum.value,'d')","labelFontSize":17,"labelFont":"Liberation Serif","labelColor":"#000","gradientStrokeColor":"#999","gradientStrokeWidth":1,"labelOffset":4,"padding":0}}}},
{"data":{"name":"res"},"mark":{"type":"rule","strokeWidth":2,"strokeCap":"round","clip":true},
"encoding":{
"x":{"field":"x","type":"quantitative","axis":{"orient":"top","labels":false,"title":null,"values":[0,1,2,3],"tickSize":-4}},
"y":{"field":"y","type":"quantitative","axis":{"orient":"right","labels":false,"title":null,"values":[0,1,2,3],"tickSize":-4}},
"x2":{"field":"x2"},"y2":{"field":"y2"},
"stroke":{"field":"p","type":"quantitative","scale":{"domain":[0,0.2001,0.5001,0.7801,1.001],"range":["#ffffff","#ffff00","#ff8c00","#ff0000","#000000"],"interpolate":"rgb"},"legend":null}}},
{"data":{"name":"blue"},"mark":{"type":"line","stroke":"#3030ff","strokeWidth":3,"strokeDash":[1.2,1.3],"opacity":0.85,"clip":true},
"encoding":{"x":{"field":"x","type":"quantitative","axis":null},"y":{"field":"y","type":"quantitative","axis":null},"detail":{"field":"c"},"order":{"field":"o"}}},
{"data":{"name":"dots"},"mark":{"type":"square","color":"#3030ff","size":10,"opacity":1,"clip":true},
"encoding":{"x":{"field":"x","type":"quantitative","axis":null},"y":{"field":"y","type":"quantitative","axis":null}}}
]
}
